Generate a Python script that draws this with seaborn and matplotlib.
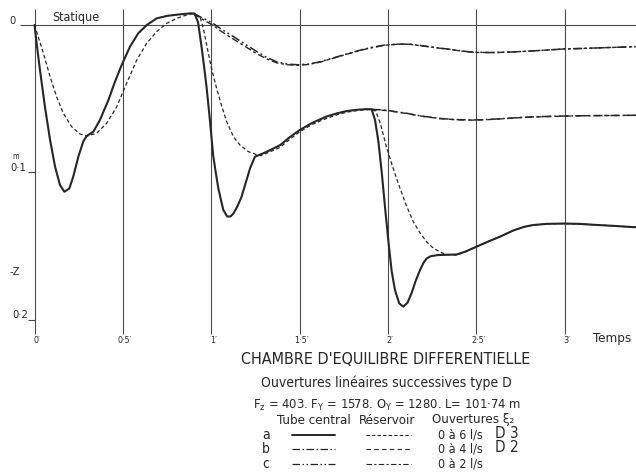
import matplotlib
matplotlib.use("Agg")
import matplotlib.pyplot as plt
import seaborn as sns
from matplotlib.lines import Line2D

# ---- data (t in minutes, z in m below static level) ----
T_A_TUBE = [0, 0.012, 0.031, 0.059, 0.088, 0.116, 0.144, 0.169, 0.197, 0.219,
            0.248, 0.276, 0.295, 0.333, 0.37, 0.418, 0.455, 0.493, 0.54, 0.587,
            0.635, 0.691, 0.75, 0.82, 0.88, 0.905, 0.925, 0.946, 0.96, 0.974,
            0.993, 1.01, 1.025, 1.04, 1.055, 1.068, 1.09, 1.108, 1.125, 1.148,
            1.17, 1.195, 1.22, 1.247, 1.294, 1.34, 1.39, 1.44, 1.5, 1.57,
            1.65, 1.71, 1.766, 1.83, 1.88, 1.907, 1.926, 1.945, 1.964, 1.982,
            2.001, 2.02, 2.039, 2.063, 2.086, 2.11, 2.133, 2.155, 2.18, 2.2,
            2.218, 2.24, 2.28, 2.33, 2.388, 2.44, 2.5, 2.576, 2.633, 2.708,
            2.77, 2.82, 2.9, 2.99, 3.08, 3.16, 3.28, 3.4]
Z_A_TUBE = [0, 0.0124, 0.0306, 0.0555, 0.078, 0.096, 0.1086, 0.1132, 0.111, 0.103,
            0.0894, 0.079, 0.0754, 0.0724, 0.0645, 0.051, 0.0385, 0.0272, 0.0147, 0.0056,
            0.0, -0.0045, -0.0062, -0.0072, -0.0079, -0.0078, -0.002, 0.0158, 0.029, 0.043,
            0.0656, 0.088, 0.100, 0.111, 0.119, 0.1256, 0.130, 0.130, 0.128, 0.123,
            0.117, 0.107, 0.097, 0.0894, 0.0871, 0.0845, 0.0815, 0.0765, 0.0713, 0.0665,
            0.0622, 0.060, 0.0584, 0.0575, 0.0571, 0.0572, 0.0645, 0.079, 0.100, 0.123,
            0.146, 0.167, 0.180, 0.189, 0.1912, 0.1885, 0.182, 0.174, 0.1665, 0.1615,
            0.1585, 0.157, 0.1562, 0.156, 0.1558, 0.1537, 0.1505, 0.1465, 0.1437, 0.1395,
            0.137, 0.1358, 0.135, 0.1348, 0.135, 0.1356, 0.1364, 0.1373]

T_A_RES = [0, 0.021, 0.05, 0.088, 0.125, 0.163, 0.21, 0.257, 0.295, 0.352,
           0.408, 0.465, 0.521, 0.578, 0.635, 0.691, 0.748, 0.804, 0.861, 0.9,
           0.936, 0.955, 0.974, 1.0, 1.03, 1.06, 1.087, 1.125, 1.162, 1.21,
           1.257, 1.28, 1.33, 1.39, 1.44, 1.5, 1.57, 1.65, 1.71, 1.766,
           1.83, 1.88, 1.907, 1.93, 1.956, 1.99, 2.02, 2.05, 2.08, 2.105,
           2.14, 2.18, 2.22, 2.256, 2.3, 2.33, 2.39, 2.44, 2.5, 2.576,
           2.633, 2.708, 2.77, 2.82, 2.9, 2.99, 3.08, 3.16, 3.28, 3.4]
Z_A_RES = [0, 0.008, 0.019, 0.035, 0.0487, 0.06, 0.069, 0.074, 0.0754, 0.0735,
           0.0667, 0.0555, 0.0396, 0.0238, 0.0124, 0.0045, -0.0011, -0.0045, -0.0068, -0.0078,
           -0.0056, 0.0022, 0.0136, 0.029, 0.043, 0.0555, 0.0656, 0.0758, 0.0815, 0.086,
           0.088, 0.0887, 0.0862, 0.083, 0.078, 0.0725, 0.0675, 0.0635, 0.061, 0.0592,
           0.058, 0.0575, 0.0573, 0.0585, 0.0667, 0.0826, 0.094, 0.105, 0.115, 0.123,
           0.133, 0.141, 0.1475, 0.1515, 0.1545, 0.1558, 0.1562, 0.1537, 0.1505, 0.1465,
           0.1437, 0.1395, 0.137, 0.1358, 0.135, 0.1348, 0.135, 0.1356, 0.1364, 0.1373]

T_B = [1.907, 1.95, 2.0, 2.05, 2.105, 2.15, 2.2, 2.29, 2.38, 2.48,
       2.57, 2.67, 2.76, 2.86, 2.99, 3.1, 3.2, 3.3, 3.4]
Z_B_TUBE = [0.0573, 0.0575, 0.058, 0.059, 0.0599, 0.061, 0.062, 0.0634, 0.0642, 0.0645,
            0.0641, 0.0634, 0.0627, 0.0622, 0.0618, 0.0616, 0.0615, 0.0614, 0.0613]
Z_B_RES = [0.0573, 0.0577, 0.0582, 0.0591, 0.0601, 0.0611, 0.0621, 0.0635, 0.0643, 0.0646,
           0.0642, 0.0635, 0.0628, 0.0623, 0.0619, 0.0616, 0.0615, 0.0614, 0.0613]

T_C = [0.9, 0.955, 1.01, 1.05, 1.1, 1.14, 1.2, 1.257, 1.31, 1.37,
       1.43, 1.49, 1.55, 1.615, 1.7, 1.785, 1.85, 1.9, 1.98, 2.05,
       2.124, 2.2, 2.28, 2.35, 2.42, 2.49, 2.58, 2.67, 2.8, 2.9,
       2.99, 3.1, 3.2, 3.3, 3.4]
Z_C_TUBE = [-0.0078, -0.0045, -0.0011, 0.0023, 0.006, 0.009, 0.0137, 0.018, 0.0218, 0.025,
            0.0265, 0.027, 0.0265, 0.025, 0.022, 0.019, 0.0168, 0.0154, 0.0136, 0.013,
            0.013, 0.0142, 0.0155, 0.0165, 0.0177, 0.0185, 0.0187, 0.0185, 0.0177, 0.017,
            0.0163, 0.0159, 0.0155, 0.0151, 0.0147]
Z_C_RES = [-0.0078, -0.0035, 0.0003, 0.0038, 0.0077, 0.0107, 0.0152, 0.0195, 0.0228, 0.0257,
           0.027, 0.0274, 0.0268, 0.0252, 0.0222, 0.0192, 0.017, 0.0156, 0.0138, 0.0131,
           0.0131, 0.0143, 0.0156, 0.0166, 0.0178, 0.0186, 0.0187, 0.0185, 0.0177, 0.017,
           0.0163, 0.0159, 0.0155, 0.0151, 0.0147]

X_TICKS = [0, 0.5, 1, 1.5, 2, 2.5, 3]
X_LABELS = ["0′", "0·5′", "1′", "1·5′", "2′", "2·5′", "3′"]

INK = "#262626"
GRID = "#4a4a4a"

# dash patterns
A_TUBE = "-"
A_RES = (0, (3, 2))
B_TUBE = (0, (6, 2, 1.2, 2))
B_RES = (0, (4, 3))
C_TUBE = (0, (6, 2, 1.2, 2, 1.2, 2))
C_RES = (0, (5, 2, 2, 2))

sns.set_style("white")
plt.rcParams["font.family"] = ["DejaVu Sans"]
plt.rcParams["font.stretch"] = "condensed"
plt.rcParams["mathtext.fontset"] = "dejavusans"

W, H = 636, 473
fig = plt.figure(figsize=(W / 100, H / 100), dpi=100)
ax = fig.add_axes([0, 0, 1, 1])
# pixel layout of the original plate: t=0 at x=34.5, 176.8 px per minute;
# z=0 at y=25, 1473 px per metre (downwards)
ax.set_xlim(-34.5 / 176.8, (W - 34.5) / 176.8)
ax.set_ylim((H - 25) / 1473, -25 / 1473)
ax.axis("off")


def px(x, y):
    return x / W, 1 - y / H


# frame: time verticals, static level, ticks
ax.vlines(X_TICKS, -0.011, 0.2095, color=GRID, lw=0.8)
ax.hlines(0, -0.082, 3.4, color=GRID, lw=0.8)
ax.hlines([0.1, 0.2], -0.037, 0, color=GRID, lw=0.8)

# curves
curves = [
    (T_C, Z_C_RES, C_RES, 1.0),
    (T_C, Z_C_TUBE, C_TUBE, 1.1),
    (T_B, Z_B_RES, B_RES, 1.0),
    (T_B, Z_B_TUBE, B_TUBE, 1.1),
    (T_A_RES, Z_A_RES, A_RES, 0.9),
    (T_A_TUBE, Z_A_TUBE, A_TUBE, 1.5),
]
for t, z, ls, lw in curves:
    sns.lineplot(x=t, y=z, ax=ax, color=INK, linewidth=lw, linestyle=ls,
                 estimator=None, sort=False)

# axis labels
for t, lab in zip(X_TICKS, X_LABELS):
    ax.text(t + 0.012, 0.2145, lab, ha="center", va="center", fontsize=6.5, color=INK)
ax.text(-0.123, -0.003, "0", ha="center", va="center", fontsize=8, color=INK)
ax.text(-0.105, 0.089, "m", ha="center", va="center", fontsize=5.5, color=INK)
ax.text(-0.094, 0.097, "0·1", ha="center", va="center", fontsize=8, color=INK)
ax.text(-0.11, 0.168, "-Z", ha="center", va="center", fontsize=8, color=INK)
ax.text(-0.082, 0.197, "0·2", ha="center", va="center", fontsize=8, color=INK)
ax.text(0.235, -0.005, "Statique", ha="center", va="center", fontsize=9, color=INK)
ax.text(3.265, 0.2128, "Temps", ha="center", va="center", fontsize=9.5, color=INK)

# caption block
fig.text(*px(386, 359), "CHAMBRE D'EQUILIBRE DIFFERENTIELLE", ha="center", va="center",
         fontsize=11.5, color=INK)
fig.text(*px(386, 383), "Ouvertures linéaires successives type D", ha="center",
         va="center", fontsize=10, color=INK)
fig.text(*px(387, 405),
         r"F$_\mathregular{z}$ = 403. F$_\mathregular{Y}$ = 1578. O$_\mathregular{Y}$ = 1280. L= 101·74 m",
         ha="center", va="center", fontsize=9.3, color=INK)
fig.text(*px(277, 420), "Tube central", ha="left", va="center", fontsize=9.5, color=INK)
fig.text(*px(359, 420), "Réservoir", ha="left", va="center", fontsize=9.5, color=INK)
fig.text(*px(432, 420), "Ouvertures ξ₂", ha="left", va="center", fontsize=9.5, color=INK)

rows = [
    ("a", 435, A_TUBE, 1.4, A_RES, "0 à 6 l/s", "D 3"),
    ("b", 449, B_TUBE, 0.9, B_RES, "0 à 4 l/s", "D 2"),
    ("c", 464, C_TUBE, 0.9, C_RES, "0 à 2 l/s", ""),
]
for letter, y, ls_t, lw_t, ls_r, txt, typ in rows:
    fig.text(*px(262, y), letter, ha="left", va="center", fontsize=10, color=INK)
    x1, yy = px(292, y)
    x2, _ = px(335, y)
    fig.add_artist(Line2D([x1, x2], [yy, yy], transform=fig.transFigure,
                          color=INK, lw=lw_t, linestyle=ls_t))
    x1, _ = px(366, y)
    x2, _ = px(411, y)
    fig.add_artist(Line2D([x1, x2], [yy, yy], transform=fig.transFigure,
                          color=INK, lw=0.8, linestyle=ls_r))
    fig.text(*px(438, y), txt, ha="left", va="center", fontsize=9, color=INK)
    if typ:
        fig.text(*px(495, y - 2), typ, ha="left", va="center", fontsize=11, color=INK)

fig.savefig("out.png", dpi=100, facecolor="white")
